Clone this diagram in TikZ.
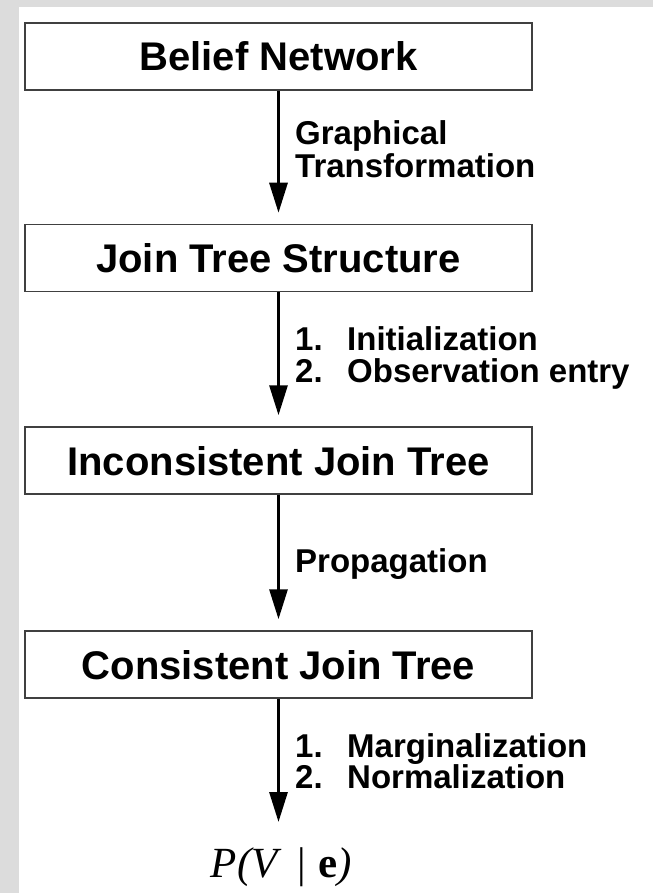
\documentclass[tikz,border=0pt]{standalone}
\usepackage{fontspec}
\setmainfont{Liberation Sans}
\newfontfamily\serifface{Liberation Serif}
\usetikzlibrary{arrows.meta}
\definecolor{pagegray}{RGB}{220,220,220}
\begin{document}
\begin{tikzpicture}[x=1pt,y=-1pt,
  stage/.style={draw=black!75, line width=1.5pt, fill=white,
    minimum width=507pt, minimum height=67pt, inner sep=0pt,
    font=\fontsize{40}{48}\selectfont\bfseries,
    text height=29pt, text depth=0pt},
  flow/.style={line width=3pt, -{Triangle[length=30pt,width=18pt]}, shorten >=11pt},
  note/.style={anchor=base west, inner sep=0pt,
    font=\fontsize{33}{40}\selectfont\bfseries}
]
% page background and white sheet
\fill[pagegray] (0,0) rectangle (653,893);
\fill[white] (19,7) rectangle (653,893);
\useasboundingbox (0,0) rectangle (653,893);

% processing stages
\node[stage] (b1) at (278.5,56.5) {Belief Network};
\node[stage] (b2) at (278.5,258)  {Join Tree Structure};
\node[stage] (b3) at (278.5,460.5) {Inconsistent Join Tree};
\node[stage] (b4) at (278.5,664.5) {Consistent Join Tree};

% final result
\node[anchor=base, inner sep=0pt, font=\serifface\fontsize{43}{50}\selectfont]
  (res) at (281.5,877)
  {\itshape P(V\hspace{0.45em}\upshape|\hspace{0.3em}\bfseries e\mdseries\itshape)};
\coordinate (tip4) at (278.5,822);

% transitions
\draw[flow] (b1.south) -- (b2.north);
\draw[flow] (b2.south) -- (b3.north);
\draw[flow] (b3.south) -- (b4.north);
\draw[flow, shorten >=0pt] (b4.south) -- (tip4);

% transition labels
\node[note] (g1) at (295,145) {Graphical};
\node[note] (g2) at (295,178) {Transformation};
\node[note] (i1) at (295,350) {\makebox[52pt][l]{1.}Initialization};
\node[note] (i2) at (295,382) {\makebox[52pt][l]{2.}Observation entry};
\node[note] (p1) at (295,572) {Propagation};
\node[note] (m1) at (295,757) {\makebox[52pt][l]{1.}Marginalization};
\node[note] (m2) at (295,788) {\makebox[52pt][l]{2.}Normalization};
\end{tikzpicture}
\end{document}
